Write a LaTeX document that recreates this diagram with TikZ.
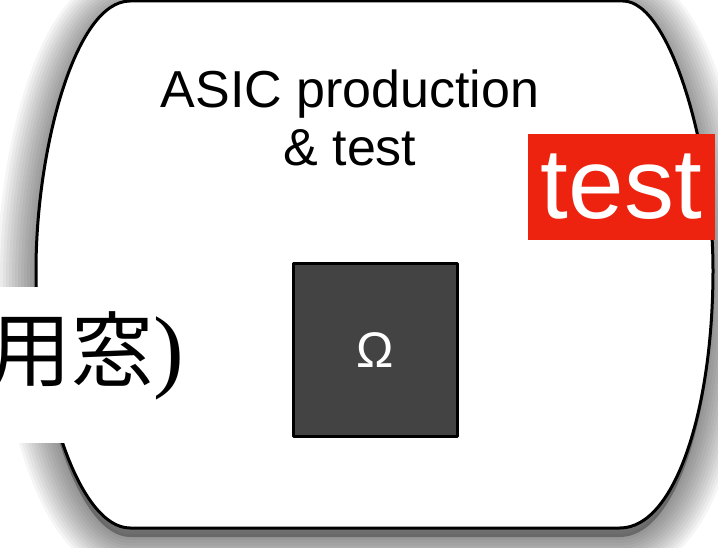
\documentclass[tikz,border=0pt]{standalone}
\usepackage{fontspec}
\setmainfont{Liberation Sans}
\newfontfamily\cjkfont{Noto Sans CJK JP}
\newfontfamily\parenfont{Liberation Serif}
\definecolor{tagred}{RGB}{237,34,15}
\definecolor{chipgray}{RGB}{67,67,67}
% outline of the production block (bulged sides)
\newcommand{\blobpath}{(130,1) -- (623,1)
  .. controls (670,1) and (713,150) .. (713,270)
  .. controls (713,410) and (675,528) .. (620,528)
  -- (130,528)
  .. controls (80,528) and (36,400) .. (36,270)
  .. controls (36,150) and (75,1) .. (130,1) -- cycle}
\tikzset{
  blockline/.style={draw=black, line width=3pt, fill=white, line join=round},
  titletext/.style={align=center, inner sep=0pt,
    font=\fontsize{52}{58}\selectfont},
  tagbox/.style={fill=tagred, text=white, inner sep=0pt,
    minimum width=187pt, minimum height=106pt,
    font=\fontsize{100}{100}\selectfont},
  chipbox/.style={draw=black, line width=3pt, fill=chipgray, text=white,
    inner sep=0pt, minimum width=164pt, minimum height=173pt,
    line join=round, font=\fontsize{50}{50}\selectfont},
  notebox/.style={fill=white, inner sep=0pt, minimum width=205pt,
    minimum height=156pt},
}
\begin{document}
\begin{tikzpicture}[x=1pt,y=-1pt]
\useasboundingbox (0,0) rectangle (718,548);
% soft drop shadow below the block, built from stacked translucent strokes
\foreach \r in {3,6,...,39}{
  \draw[black, opacity=0.04, line width=2*\r, line join=round,
        shift={(0,9)}] \blobpath;
}
\fill[black, opacity=0.3, shift={(0,9)}] \blobpath;
% the block itself
\path[blockline] \blobpath;
\node[titletext] (title) at (350,117.5) {ASIC production\\\& test};
\node[tagbox] (tag) at (621.5,187) {test};
\node[chipbox] (chip) at (375.5,350) {Ω};
% white note overlapping the left edge
\node[notebox, anchor=north west] (note) at (-10,287) {};
\node[anchor=base west, inner sep=0pt] (notetext) at (-11,380)
  {\cjkfont\fontsize{82}{82}\selectfont 用窓\parenfont\fontsize{92}{92}\selectfont)};
\end{tikzpicture}
\end{document}
